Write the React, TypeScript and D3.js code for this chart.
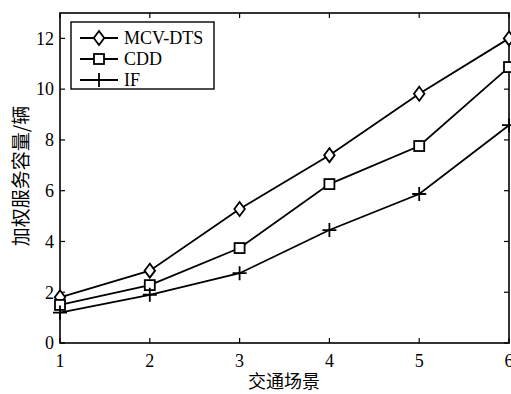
import React, { useEffect, useRef } from 'react';
import * as d3 from 'd3';

const scenes = [1, 2, 3, 4, 5, 6];
const mcvDts = [1.8, 2.85, 5.28, 7.4, 9.82, 12.0];
const cdd = [1.5, 2.28, 3.74, 6.26, 7.76, 10.87];
const iff = [1.2, 1.9, 2.75, 4.45, 5.87, 8.58];
const seriesNames = ['MCV-DTS', 'CDD', 'IF'];
const yTicks = [0, 2, 4, 6, 8, 10, 12];

const W = 511;
const H = 394;
const serif = "'Liberation Serif', 'DejaVu Serif', 'Times New Roman', serif";
const cjk = "'Noto Sans CJK SC', sans-serif";

const drawMarker = (g: any, kind: string, x: number, y: number) => {
  if (kind === 'MCV-DTS') {
    const r = 7;
    g.append('path')
      .attr('d', `M${x},${y - r}L${x + r * 0.75},${y}L${x},${y + r}L${x - r * 0.75},${y}Z`)
      .attr('fill', 'white').attr('stroke', '#000').attr('stroke-width', 1.8);
  } else if (kind === 'CDD') {
    const s = 5;
    g.append('rect')
      .attr('x', x - s).attr('y', y - s).attr('width', 2 * s).attr('height', 2 * s)
      .attr('fill', 'white').attr('stroke', '#000').attr('stroke-width', 1.8);
  } else {
    const s = 7;
    g.append('path')
      .attr('d', `M${x - s},${y}L${x + s},${y}M${x},${y - s}L${x},${y + s}`)
      .attr('stroke', '#000').attr('stroke-width', 1.8);
  }
};

const App: React.FC = () => {
  const svgRef = useRef<SVGSVGElement>(null);

  useEffect(() => {
    if (!svgRef.current) return;
    const svg = d3.select(svgRef.current);
    svg.selectAll('*').remove();

    const left = 60, right = 509, top = 13, bottom = 343;
    const x = d3.scaleLinear().domain([1, 6]).range([left, right]);
    const y = d3.scaleLinear().domain([0, 13]).range([bottom, top]);

    // frame
    svg.append('rect')
      .attr('x', left).attr('y', top).attr('width', right - left).attr('height', bottom - top)
      .attr('fill', 'none').attr('stroke', '#000').attr('stroke-width', 1.6);

    // ticks (inward)
    const tk = svg.append('g').attr('stroke', '#000').attr('stroke-width', 1.2);
    scenes.forEach(s => {
      tk.append('line').attr('x1', x(s)).attr('x2', x(s)).attr('y1', bottom).attr('y2', bottom - 5);
      tk.append('line').attr('x1', x(s)).attr('x2', x(s)).attr('y1', top).attr('y2', top + 5);
    });
    yTicks.forEach(t => {
      tk.append('line').attr('x1', left).attr('x2', left + 5).attr('y1', y(t)).attr('y2', y(t));
      tk.append('line').attr('x1', right).attr('x2', right - 5).attr('y1', y(t)).attr('y2', y(t));
    });

    // tick labels
    svg.append('g').selectAll('text').data(scenes).join('text')
      .attr('x', d => x(d)).attr('y', bottom + 24)
      .attr('text-anchor', 'middle').style('font-family', serif).style('font-size', '18px')
      .text(d => d);
    svg.append('g').selectAll('text').data(yTicks).join('text')
      .attr('x', left - 6).attr('y', d => y(d)).attr('dy', '0.35em')
      .attr('text-anchor', 'end').style('font-family', serif).style('font-size', '18px')
      .text(d => d);

    // axis titles
    svg.append('text')
      .attr('x', 284).attr('y', 388)
      .attr('text-anchor', 'middle').style('font-family', cjk).style('font-size', '18px')
      .text('交通场景');
    svg.append('text')
      .attr('transform', 'translate(28,176) rotate(-90)')
      .attr('text-anchor', 'middle').style('font-family', cjk).style('font-size', '19px')
      .text('加权服务容量/辆');

    // series
    const all = [mcvDts, cdd, iff];
    const line = d3.line<number>().x((_, i) => x(scenes[i])).y(d => y(d));
    all.forEach((vals, k) => {
      svg.append('path').attr('d', line(vals)!)
        .attr('fill', 'none').attr('stroke', '#000').attr('stroke-width', 1.8);
      const mg = svg.append('g');
      vals.forEach((v, i) => drawMarker(mg, seriesNames[k], x(scenes[i]), y(v)));
    });

    // legend
    const lg = svg.append('g');
    lg.append('rect').attr('x', 71).attr('y', 22).attr('width', 143).attr('height', 67)
      .attr('fill', 'white').attr('stroke', '#000').attr('stroke-width', 1.4);
    seriesNames.forEach((n, i) => {
      const ly = 38 + i * 21;
      lg.append('line').attr('x1', 80).attr('x2', 118).attr('y1', ly).attr('y2', ly)
        .attr('stroke', '#000').attr('stroke-width', 1.8);
      drawMarker(lg, n, 99, ly);
      lg.append('text').attr('x', 124).attr('y', ly).attr('dy', '0.35em')
        .style('font-family', serif).style('font-size', '18px').text(n);
    });
  }, []);

  return (
    <svg ref={svgRef} width={W} height={H}
      style={{ position: 'absolute', left: 0, top: 0, background: 'white' }} />
  );
};

export default App;
